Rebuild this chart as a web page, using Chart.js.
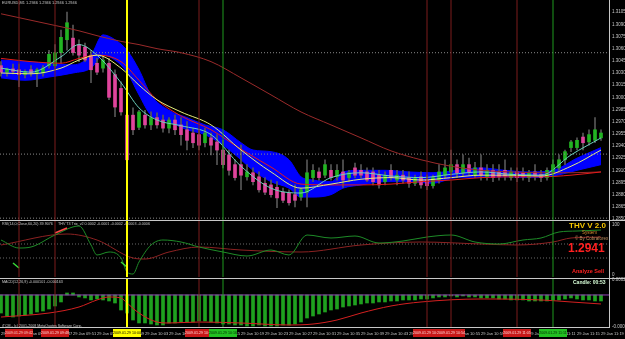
<!DOCTYPE html>
<html><head><meta charset="utf-8">
<script src="https://cdn.jsdelivr.net/npm/chart.js@4.4.1/dist/chart.umd.min.js"></script>
<style>
html,body{margin:0;padding:0;background:#000;width:625px;height:339px;overflow:hidden}
canvas{position:absolute;left:0;top:0}
.t{position:absolute;white-space:nowrap;line-height:1;font-family:"Liberation Sans",Arial,sans-serif;color:#c8c8c8}
.sep{position:absolute;left:0;width:625px;height:1px;background:#c8c8c8}
.box{position:absolute;height:8px;top:329px;font-family:"Liberation Sans",Arial,sans-serif;font-size:3.6px;line-height:8px;text-align:center;white-space:nowrap}
</style></head><body>
<canvas id="c1" width="625" height="339"></canvas>
<canvas id="c2" width="625" height="339"></canvas>
<canvas id="c3" width="625" height="339"></canvas>
<div class="sep" style="top:220px"></div>
<div class="sep" style="top:278px"></div>
<div class="t" style="left:2px;top:1px;font-size:3.9px">EURUSD,M1 1.2946 1.2946 1.2946 1.2946</div>
<div class="t" style="left:2px;top:223px;font-size:3.7px">RSI(14,0,Close,60,20) 39.9076</div>
<div class="t" style="left:58px;top:223px;font-size:3.7px">THV T3 Trix_v2 0.0002 -0.0001 -0.0002 -0.0003 -0.0006</div>
<div class="t" style="left:2px;top:281px;font-size:3.7px">MACD(12,26,9) -0.000101 -0.000163</div>
<div class="t" style="left:2px;top:325px;font-size:3.6px">iTCM - (c) 2001-2008 MetaQuotes Software Corp.</div>
<div class="t" style="left:569px;top:222px;font-size:8px;font-weight:bold;color:#f5c400">THV V 2.0</div>
<div class="t" style="left:582px;top:230.5px;font-size:4.5px;color:#d88a30">System</div>
<div class="t" style="left:575px;top:237px;font-size:4.5px;color:#c09060">© By Cobraforex</div>
<div class="t" style="left:568px;top:242px;font-size:12px;font-weight:bold;color:#ff2020">1.2941</div>
<div class="t" style="left:572px;top:269px;font-size:5.5px;font-weight:bold;color:#ff2020">Analyze Sell</div>
<div class="t" style="left:573px;top:280px;font-size:5px;font-weight:bold;color:#d8ffd8">Candle: 00:53</div>
<script>
// ---------------- DATA ----------------
const open = [1.3039,1.3031,1.3035,1.3034,1.3028,1.3034,1.3029,1.3030,1.3039,1.3039,
1.3055,1.3071,1.3073,1.3065,1.3062,1.3052,1.3042,1.3036,1.3042,1.3028,
1.3011,1.2978,1.2978,1.2963,1.2978,1.2966,1.2975,1.2972,1.2962,1.2972,
1.2966,1.2960,1.2956,1.2954,1.2944,1.2950,1.2945,1.2935,1.2929,1.2917,
1.2917,1.2902,1.2907,1.2902,1.2894,1.2892,1.2889,1.2883,1.2882,1.2880,
1.2877,1.2883,1.2901,1.2908,1.2904,1.2910,1.2902,1.2908,1.2901,1.2913,
1.2910,1.2908,1.2908,1.2904,1.2896,1.2910,1.2898,1.2904,1.2901,1.2894,
1.2902,1.2898,1.2891,1.2898,1.2904,1.2908,1.2917,1.2907,1.2917,1.2904,
1.2913,1.2902,1.2910,1.2908,1.2910,1.2901,1.2908,1.2907,1.2901,1.2908,
1.2905,1.2901,1.2908,1.2913,1.2923,1.2938,1.2938,1.2951,1.2945,1.2947,
1.2950];
const high = [1.3044,1.3036,1.3041,1.3041,1.3034,1.3039,1.3036,1.3039,1.3058,1.3065,
1.3083,1.3105,1.3089,1.3071,1.3067,1.3058,1.3048,1.3051,1.3048,1.3034,
1.3019,1.2984,1.2987,1.2984,1.2984,1.2982,1.2981,1.2978,1.2975,1.2978,
1.2975,1.2970,1.2962,1.2960,1.2962,1.2956,1.2954,1.2947,1.2935,1.2923,
1.2941,1.2917,1.2913,1.2908,1.2901,1.2898,1.2896,1.2888,1.2886,1.2892,
1.2888,1.2923,1.2917,1.2913,1.2923,1.2917,1.2917,1.2923,1.2910,1.2919,
1.2917,1.2913,1.2913,1.2910,1.2908,1.2917,1.2910,1.2910,1.2908,1.2904,
1.2908,1.2904,1.2904,1.2917,1.2923,1.2935,1.2923,1.2929,1.2925,1.2920,
1.2929,1.2917,1.2917,1.2917,1.2923,1.2913,1.2913,1.2913,1.2910,1.2917,
1.2910,1.2913,1.2923,1.2929,1.2935,1.2947,1.2950,1.2956,1.2960,1.2975,
1.2960];
const low = [1.3026,1.3026,1.3029,1.3013,1.3024,1.3026,1.3013,1.3026,1.3036,1.3036,
1.3042,1.3058,1.3052,1.3044,1.3044,1.3018,1.3028,1.3031,1.2997,1.2976,
1.2978,1.2920,1.2954,1.2960,1.2962,1.2960,1.2962,1.2957,1.2956,1.2954,
1.2941,1.2935,1.2938,1.2935,1.2939,1.2929,1.2917,1.2913,1.2904,1.2898,
1.2886,1.2898,1.2892,1.2883,1.2880,1.2877,1.2864,1.2870,1.2867,1.2865,
1.2873,1.2865,1.2896,1.2898,1.2901,1.2898,1.2898,1.2889,1.2896,1.2901,
1.2901,1.2896,1.2892,1.2888,1.2892,1.2898,1.2892,1.2894,1.2889,1.2891,
1.2888,1.2886,1.2888,1.2894,1.2901,1.2904,1.2901,1.2903,1.2904,1.2901,
1.2898,1.2898,1.2896,1.2898,1.2898,1.2898,1.2896,1.2898,1.2896,1.2898,
1.2896,1.2898,1.2904,1.2910,1.2917,1.2933,1.2935,1.2935,1.2941,1.2944,
1.2947];
const close = [1.3031,1.3035,1.3032,1.3028,1.3032,1.3030,1.3034,1.3036,1.3053,1.3055,
1.3074,1.3092,1.3055,1.3052,1.3046,1.3034,1.3031,1.3046,1.3000,1.2988,
1.2982,1.2923,1.2960,1.2982,1.2966,1.2975,1.2966,1.2962,1.2972,1.2960,
1.2954,1.2947,1.2944,1.2941,1.2956,1.2941,1.2935,1.2917,1.2910,1.2901,
1.2904,1.2908,1.2896,1.2886,1.2883,1.2880,1.2876,1.2873,1.2870,1.2873,
1.2886,1.2907,1.2910,1.2901,1.2917,1.2901,1.2910,1.2898,1.2907,1.2904,
1.2904,1.2898,1.2896,1.2892,1.2904,1.2901,1.2904,1.2898,1.2894,1.2901,
1.2892,1.2891,1.2901,1.2908,1.2913,1.2917,1.2907,1.2917,1.2908,1.2913,
1.2904,1.2910,1.2901,1.2902,1.2903,1.2908,1.2901,1.2902,1.2907,1.2903,
1.2901,1.2910,1.2917,1.2923,1.2933,1.2945,1.2947,1.2944,1.2954,1.2960,
1.2956];

const maBars   = [0,5,10,13,16,20,23,26,30,35,40,45,50,55,60,65,70,75,80,85,90,95,100];
const maRed    = [1.3048,1.3044,1.3042,1.3048,1.3052,1.3044,1.3021,1.2997,1.2977,1.2960,1.2936,1.2914,1.2893,1.2892,1.2892,1.2893,1.2896,1.2898,1.2901,1.2902,1.2902,1.2904,1.2908];
const maCyan   = [1.3036,1.3031,1.3050,1.3065,1.3052,1.3018,1.2987,1.2972,1.2965,1.2954,1.2915,1.2888,1.2882,1.2901,1.2907,1.2903,1.2901,1.2905,1.2908,1.2905,1.2904,1.2929,1.2950];
const maYellow = [1.3030,1.3029,1.3036,1.3046,1.3052,1.3036,1.3015,1.2997,1.2982,1.2966,1.2935,1.2908,1.2888,1.2893,1.2899,1.2901,1.2898,1.2901,1.2904,1.2904,1.2903,1.2915,1.2935];
const maLong   = [1.3103,1.3095,1.3087,1.3082,1.3076,1.3069,1.3065,1.3060,1.3055,1.3044,1.3024,1.3003,1.2982,1.2966,1.2950,1.2934,1.2923,1.2915,1.2910,1.2908,1.2907,1.2907,1.2908];

const cloudBars   = [0,4,8,12,15,17,19,21,23,25,28,31,34,37,40,42,45,48,50,52,55,57,60,64,68,72,76,80,84,88,92,96,100];
const cloudTop    = [1.3046,1.3044,1.3042,1.3040,1.3052,1.3077,1.3071,1.3058,1.3034,1.3003,1.2984,1.2975,1.2966,1.2960,1.2944,1.2935,1.2933,1.2923,1.2902,1.2898,1.2896,1.2908,1.2910,1.2910,1.2908,1.2907,1.2910,1.2913,1.2910,1.2908,1.2910,1.2925,1.2938];
const cloudBottom = [1.3024,1.3021,1.3025,1.3030,1.3036,1.3052,1.3046,1.3031,1.3003,1.2978,1.2970,1.2960,1.2954,1.2941,1.2923,1.2910,1.2896,1.2888,1.2877,1.2877,1.2880,1.2888,1.2892,1.2896,1.2896,1.2894,1.2901,1.2901,1.2902,1.2901,1.2903,1.2910,1.2917];

const priceLevels = [1.3055,1.2930,1.2851];
const priceTicks = [1.3105,1.3090,1.3075,1.3060,1.3045,1.3030,1.3015,1.3000,1.2985,1.2970,1.2955,1.2940,1.2925,1.2910,1.2895,1.2880,1.2865,1.2850];

const rsiBars = [0,3,5,9,13,15,16,18,20,21,22,23,25,27,30,33,37,41,45,48,51,55,59,63,67,71,75,79,83,87,90,93,96,100];
const rsiVals = [70,54,56,80,98,60,40,46,34,6,2,26,60,70,66,56,46,38,50,40,80,74,78,64,68,76,80,66,62,70,74,86,88,90];
const trixBars = [0,11,16,22,24,28,33,40,50,60,70,80,86,92,95,100];
const trixVals = [60,82,70,34,32,46,56,50,46,60,66,62,60,66,74,76];
const rsiLevels = [62,34];
const thvRedBars = [9,11],   thvRedVals = [84,94];
const thvGrn1Bars = [2,3],   thvGrn1Vals = [24,14];
const thvGrn2Bars = [20,21], thvGrn2Vals = [26,16];
const rsiTicks = [100,0];

const macdHist = [-0.000315,-0.000367,-0.000385,-0.000367,-0.000350,-0.000332,-0.000297,-0.000280,-0.000245,-0.000192,-0.000122,
0.000035,0.000035,-0.000035,-0.000052,-0.000087,-0.000070,-0.000087,-0.000105,-0.000140,-0.000262,
-0.000315,-0.000437,-0.000489,-0.000489,-0.000507,-0.000524,-0.000524,-0.000489,-0.000489,-0.000472,
-0.000472,-0.000472,-0.000454,-0.000454,-0.000472,-0.000489,-0.000507,-0.000507,-0.000524,-0.000524,
-0.000541,-0.000541,-0.000524,-0.000541,-0.000541,-0.000541,-0.000524,-0.000524,-0.000507,-0.000472,
-0.000402,-0.000367,-0.000332,-0.000297,-0.000262,-0.000245,-0.000210,-0.000192,-0.000175,-0.000157,
-0.000140,-0.000140,-0.000122,-0.000122,-0.000105,-0.000105,-0.000087,-0.000087,-0.000087,-0.000070,
-0.000070,-0.000052,-0.000035,-0.000035,-0.000017,-0.000035,-0.000017,-0.000035,-0.000035,-0.000052,
-0.000052,-0.000052,-0.000070,-0.000070,-0.000087,-0.000087,-0.000087,-0.000105,-0.000105,-0.000105,
-0.000105,-0.000087,-0.000087,-0.000070,-0.000052,-0.000070,-0.000087,-0.000087,-0.000105,-0.000105];
const macdSigBars = [0,8,13,16,18,20,21,23,26,28,33,40,48,52,56,60,65,70,80,90,95,100];
const macdSig = [-0.000385,-0.000315,-0.000210,-0.000087,-0.000035,-0.000052,-0.000140,-0.000315,-0.000472,-0.000489,-0.000472,-0.000489,-0.000524,-0.000507,-0.000437,-0.000315,-0.000192,-0.000122,-0.000070,-0.000087,-0.000122,-0.000157];
const macdTicks = [0.000262,-0.000559];

const timeTickBars = [0,4,8,12,16,20,24,28,32,36,40,44,48,52,56,60,64,68,72,76,80,84,88,92,96,100];
const timeLabels = ["29 Jan 09:39","29 Jan 09:43","29 Jan 09:47","29 Jan 09:51","29 Jan 09:55","29 Jan 09:59","29 Jan 10:03","29 Jan 10:07","29 Jan 10:11","29 Jan 10:15","29 Jan 10:19","29 Jan 10:23","29 Jan 10:27","29 Jan 10:31","29 Jan 10:35","29 Jan 10:39","29 Jan 10:43","29 Jan 10:47","29 Jan 10:51","29 Jan 10:55","29 Jan 10:59","29 Jan 11:03","29 Jan 11:07","29 Jan 11:11","29 Jan 11:15","29 Jan 11:19"];

const redLineBars = [3,9,33,71,75,86];
const redLineTimes = ["2009.01.29 09:42","2009.01.29 09:48","2009.01.29 10:12","2009.01.29 10:50","2009.01.29 10:54","2009.01.29 11:05"];
const yellowLineBars = [21];
const yellowLineTimes = ["2009.01.29 10:00"];
const greenLineBars = [37,92];
const greenLineTimes = ["2009.01.29 10:16","2009.01.29 11:11"];

// ---------------- SETUP ----------------
const XMIN = -1/6, XMAX = 101 + 1/3;
const PRICE_MAX = 1.3120, PRICE_MIN = 1.284874;
const RSI_MIN = -4, RSI_MAX = 108;
const MACD_MIN = -0.000559, MACD_MAX = 0.000279;
const UP = '#22b422', DN = '#e0449c';
const AXC = '#c8c8c8';
const FONT = 'Liberation Sans';

const pts = (bars, vals) => bars.map((b, i) => ({x: b, y: vals[i]}));
const idx = open.map((_, i) => i);

function line(data, color, width, order, extra) {
  return Object.assign({type: 'line', data, borderColor: color, borderWidth: width, pointRadius: 0,
    fill: false, cubicInterpolationMode: 'monotone', order}, extra || {});
}
function vlines(lo, hi) {
  const mk = (bars, color, w) => bars.map(b => line([{x: b, y: lo}, {x: b, y: hi}], color, w, 0, {cubicInterpolationMode: 'default', tension: 0}));
  return [].concat(mk(redLineBars, '#7d1c1c', 1), mk(greenLineBars, '#1e9a1e', 1), mk(yellowLineBars, '#ffff00', 2));
}
function hlines(levels, color, order) {
  return levels.map(v => line([{x: XMIN, y: v}, {x: XMAX, y: v}], color, 1, order, {borderDash: [1, 2], tension: 0, cubicInterpolationMode: 'default'}));
}
function opts(top, bottom, ymin, ymax, yTicks, fmt, showX) {
  const x = {type: 'linear', min: XMIN, max: XMAX, display: false, offset: false};
  if (showX) {
    Object.assign(x, {display: true, position: 'bottom', grid: {display: false, drawTicks: false},
      border: {display: true, color: AXC},
      ticks: {color: AXC, font: {size: 4, family: FONT}, padding: 4, align: 'start', maxRotation: 0, minRotation: 0, autoSkip: false,
        callback: (v, i) => timeLabels[i]},
      afterBuildTicks(a) { a.ticks = timeTickBars.map(v => ({value: v})); },
      afterFit(a) { a.height = 12; a.paddingLeft = 0; a.paddingRight = 0; }
    });
  }
  return {
    responsive: false, animation: false, events: [],
    layout: {padding: {top: top, bottom: showX ? 0 : 339 - bottom, left: 0, right: 0}},
    plugins: {legend: {display: false}, tooltip: {enabled: false}},
    scales: {
      x,
      y: {type: 'linear', position: 'right', min: ymin, max: ymax, grid: {display: false, drawTicks: false},
        border: {display: true, color: AXC},
        ticks: {color: AXC, font: {size: 4.5, family: FONT}, padding: 3, autoSkip: false, callback: fmt},
        afterBuildTicks(a) { a.ticks = yTicks.map(v => ({value: v})); },
        afterFit(a) { a.width = 16; a.paddingTop = 0; a.paddingBottom = 0; }
      }
    }
  };
}

// ---------------- MAIN PRICE PANEL ----------------
new Chart(document.getElementById('c1'), {
  type: 'bar',
  data: {datasets: [
    line(pts(cloudBars, cloudTop), '#0000ff', 1, 20),
    line(pts(cloudBars, cloudBottom), '#0000ff', 1, 19, {fill: '-1', backgroundColor: '#0000ff'}),
    {type: 'bar', data: idx.map(i => ({x: i, y: [low[i], high[i]]})), backgroundColor: '#575757', barThickness: 1, grouped: false, order: 15},
    {type: 'bar', data: idx.map(i => ({x: i, y: [open[i], close[i]]})), backgroundColor: idx.map(i => close[i] >= open[i] ? UP : DN), barThickness: 3, grouped: false, order: 14},
    ...hlines(priceLevels, '#8a8a8a', 12),
    line(pts(maBars, maLong), '#9a2a2a', 1, 6),
    line(pts(maBars, maRed), '#e41a1a', 1, 5),
    line(pts(maBars, maYellow), '#e4ec7a', 1, 4),
    line(pts(maBars, maCyan), '#6cd0bc', 1, 3),
    ...vlines(PRICE_MIN, PRICE_MAX)
  ]},
  options: opts(0, 220, PRICE_MIN, PRICE_MAX, priceTicks, v => v.toFixed(4), false)
});

// ---------------- RSI / THV PANEL ----------------
new Chart(document.getElementById('c2'), {
  type: 'line',
  data: {datasets: [
    ...hlines(rsiLevels, '#6a6a6a', 12),
    line(pts(trixBars, trixVals), '#8c2222', 1, 5),
    line(pts(rsiBars, rsiVals), '#1e8c28', 1, 4),
    line(pts(thvRedBars, thvRedVals), '#ff4848', 1.5, 2),
    line(pts(thvGrn1Bars, thvGrn1Vals), '#38d838', 1.5, 2),
    line(pts(thvGrn2Bars, thvGrn2Vals), '#38d838', 1.5, 2),
    ...vlines(RSI_MIN, RSI_MAX)
  ]},
  options: opts(221, 277, RSI_MIN, RSI_MAX, rsiTicks, v => String(v), false)
});

// ---------------- MACD PANEL ----------------
const ch3 = new Chart(document.getElementById('c3'), {
  type: 'bar',
  data: {datasets: [
    {type: 'bar', data: idx.map(i => ({x: i, y: macdHist[i]})), backgroundColor: '#1fa01f', barThickness: 3, grouped: false, order: 10},
    line([{x: XMIN, y: 0}, {x: XMAX, y: 0}], '#9444b8', 1, 8, {tension: 0, cubicInterpolationMode: 'default'}),
    line(pts(macdSigBars, macdSig), '#d42020', 1, 2),
    ...vlines(MACD_MIN, MACD_MAX)
  ]},
  options: opts(279, 327, MACD_MIN, MACD_MAX, macdTicks, v => v.toFixed(6), true)
});

// ---------------- TIME MARKER BOXES ----------------
function boxes(bars, texts, bg, fg) {
  bars.forEach((b, i) => {
    const px = ch3.scales.x.getPixelForValue(b);
    const d = document.createElement('div');
    d.className = 'box';
    d.style.left = (px - 14) + 'px';
    d.style.width = '28px';
    d.style.background = bg;
    d.style.color = fg;
    d.textContent = texts[i];
    document.body.appendChild(d);
  });
}
boxes(redLineBars, redLineTimes, '#c81818', '#ffd8d8');
boxes(yellowLineBars, yellowLineTimes, '#ffff00', '#000000');
boxes(greenLineBars, greenLineTimes, '#22c022', '#002800');
</script>
</body></html>
